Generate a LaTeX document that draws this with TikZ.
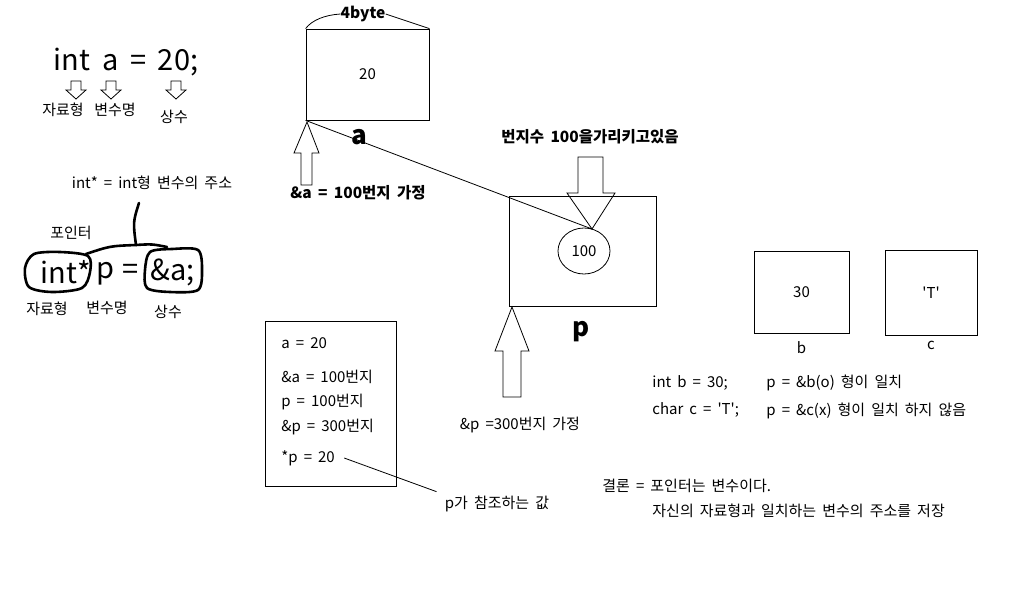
\documentclass[tikz,border=0pt]{standalone}
\usepackage{fontspec}
\setmainfont{Noto Sans CJK KR}[WordSpace=1.8]
\usetikzlibrary{positioning,shapes.geometric}
\newcommand{\sq}{\textquotesingle}

\begin{document}
\begin{tikzpicture}[x=1pt, y=-1pt, line width=0.8pt,
  cell/.style={draw, inner sep=0pt, font=\fontsize{15}{17}\selectfont},
  lbl/.style={inner sep=0pt, font=\fontsize{15}{17}\selectfont},
  bold/.style={inner sep=0pt, font=\fontsize{15.5}{17}\selectfont\bfseries},
  big/.style={inner sep=0pt, font=\fontsize{29}{32}\selectfont},
  varname/.style={inner sep=0pt, font=\fontsize{26}{28}\selectfont\bfseries},
  hollow/.style={draw, fill=white, line join=miter},
  blob/.style={draw, line width=2.6pt, line join=round, line cap=round}]
  \useasboundingbox (0,0) rectangle (1013,616);

  % declaration of a
  \node[big] (decla) at (126,62) {int a = 20;};
  \foreach \x in {76,111,176}{
    \draw[hollow] (\x-5,81) -- ++(10,0) -- ++(0,9) -- ++(5,0) -- ++(-10,9) -- ++(-10,-9) -- ++(5,0) -- cycle;}
  \node[lbl] (typea) at (63,110) {자료형};
  \node[lbl] (vara) at (115,110) {변수명};
  \node[lbl] (consta) at (174,117) {상수};

  % declaration of p
  \node[lbl] (ptrdef) at (152,183) {int* = int형 변수의 주소};
  \node[lbl] (ptrword) at (71,233) {포인터};
  \node[big] (typep) at (66,272) {int*};
  \node[big] (varp) at (105,274) {p};
  \node[big] (eqp) at (131,272) {=};
  \node[big] (constp) at (173,272) {\&a;};
  \draw[blob] plot[smooth cycle] coordinates {(25,268) (34,254) (60,252) (88,256) (90,272) (82,288) (52,292) (29,287)};
  \draw[blob] plot[smooth cycle] coordinates {(145,270) (150,252) (172,249) (198,250) (202,270) (198,290) (170,292) (147,288)};
  \draw[blob] (139,203) .. controls (133,222) .. (136,245);
  \draw[blob] (86,254) .. controls (110,246) .. (136,245) .. controls (152,244) .. (167,247);
  \node[lbl] (typep2) at (47,309) {자료형};
  \node[lbl] (varp2) at (107,308) {변수명};
  \node[lbl] (constp2) at (168,312) {상수};

  % memory of a
  \draw[hollow] (307,122) -- (319,153) -- (312,153) -- (312,185) -- (301,185) -- (301,153) -- (294,153) -- cycle;
  \node[cell, minimum width=123pt, minimum height=91pt] (boxa) at (367.5,74.5) {20};
  \node[bold] (bytes) at (363,14) {4byte};
  \draw (boxa.north west) .. controls (312,20) and (325,15) .. (bytes.west);
  \draw (bytes.east) -- (boxa.north east);
  \node[varname] (namea) at (359,137) {a};
  \node[bold] (addra) at (358,193) {\&a = 100번지 가정};

  % memory of p
  \draw[hollow] (578,157) -- (603,157) -- (603,193) -- (615,193) -- (592,229) -- (567,193) -- (578,193) -- cycle;
  \coordinate (ptip) at (592,229);
  \node[cell, minimum width=147pt, minimum height=110pt] (boxp) at (583,251.5) {};
  \node[draw, ellipse, inner sep=0pt, minimum width=52pt, minimum height=46pt, font=\fontsize{15}{17}\selectfont] (addr) at (584,251) {100};
  \draw (boxa.south west) -- (ptip);
  \node[bold] (points) at (590,137) {번지수 100을가리키고있음};
  \draw[hollow] (512,307) -- (529,351) -- (521,351) -- (521,397) -- (503,397) -- (503,351) -- (495,351) -- cycle;
  \node[varname] (namep) at (581,332) {p};
  \node[lbl] (addrp) at (520,425) {\&p =300번지 가정};

  % summary
  \node[cell, minimum width=131pt, minimum height=165pt] (memo) at (330.5,403.5) {};
  \node[lbl, anchor=west] (la) at (281,343) {a = 20};
  \node[lbl, anchor=west] (laddr) at (281,377) {\&a = 100번지};
  \node[lbl, anchor=west] (lp) at (281,402) {p = 100번지};
  \node[lbl, anchor=west] (lpaddr) at (281,427) {\&p = 300번지};
  \node[lbl, anchor=west] (lderef) at (281,458) {*p = 20};
  \node[lbl] (note) at (497,504) {p가 참조하는 값};
  \draw ([xshift=9pt]lderef.east) -- ([shift={(-8,-4)}]note.north west);

  % b and c
  \node[cell, minimum width=95pt, minimum height=82pt] (boxb) at (801.5,292.5) {30};
  \node[lbl, below=7pt of boxb] (nameb) {b};
  \node[cell, minimum width=92pt, minimum height=85pt] (boxc) at (931,293) {\sq T\sq};
  \node[lbl, below=5pt of boxc] (namec) {c};
  \node[lbl, anchor=west] (declb) at (652,383) {int b = 30;};
  \node[lbl, anchor=west] (declc) at (652,410) {char c = \sq T\sq;};
  \node[lbl, anchor=west] (okb) at (766,383) {p = \&b(o) 형이 일치};
  \node[lbl, anchor=west] (noc) at (766,411) {p = \&c(x) 형이 일치 하지 않음};

  % conclusion
  \node[lbl, anchor=west] (concl) at (602,486) {결론 = 포인터는 변수이다.};
  \node[lbl, anchor=west] (concl2) at (652,511) {자신의 자료형과 일치하는 변수의 주소를 저장};
\end{tikzpicture}
\end{document}
